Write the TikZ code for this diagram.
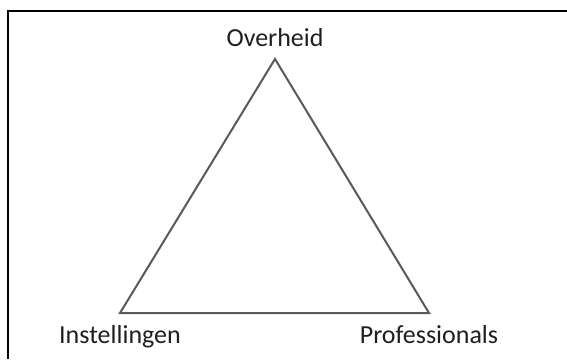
\documentclass[tikz,border=0pt]{standalone}
\usepackage{fontspec}
\setmainfont{Carlito}
\usetikzlibrary{positioning}

\begin{document}
\begin{tikzpicture}[x=0.5pt,y=0.5pt,
        side/.style={draw=black!65,line width=1pt,line join=miter},
        word/.style={text=black!88,inner sep=0pt,font=\fontsize{13}{15}\selectfont}]
            \useasboundingbox (0,0) rectangle (567,359);

            % frame
            \draw[line width=1pt] (7.5,0) -- (7.5,347.5) -- (567,347.5);

            % corners
            \coordinate (top) at (275,300);
            \coordinate (left) at (120,46);
            \coordinate (right) at (429,46);

            % triangle
            \draw[side] (top) -- (right) -- (left) -- cycle;

            % labels
            \node[word,above=6pt of top] (overheid) {Overheid};
            \node[word,below=6pt of left] (instellingen) {Instellingen};
            \node[word,below=6pt of right] (professionals) {Professionals};
        \end{tikzpicture}
\end{document}
